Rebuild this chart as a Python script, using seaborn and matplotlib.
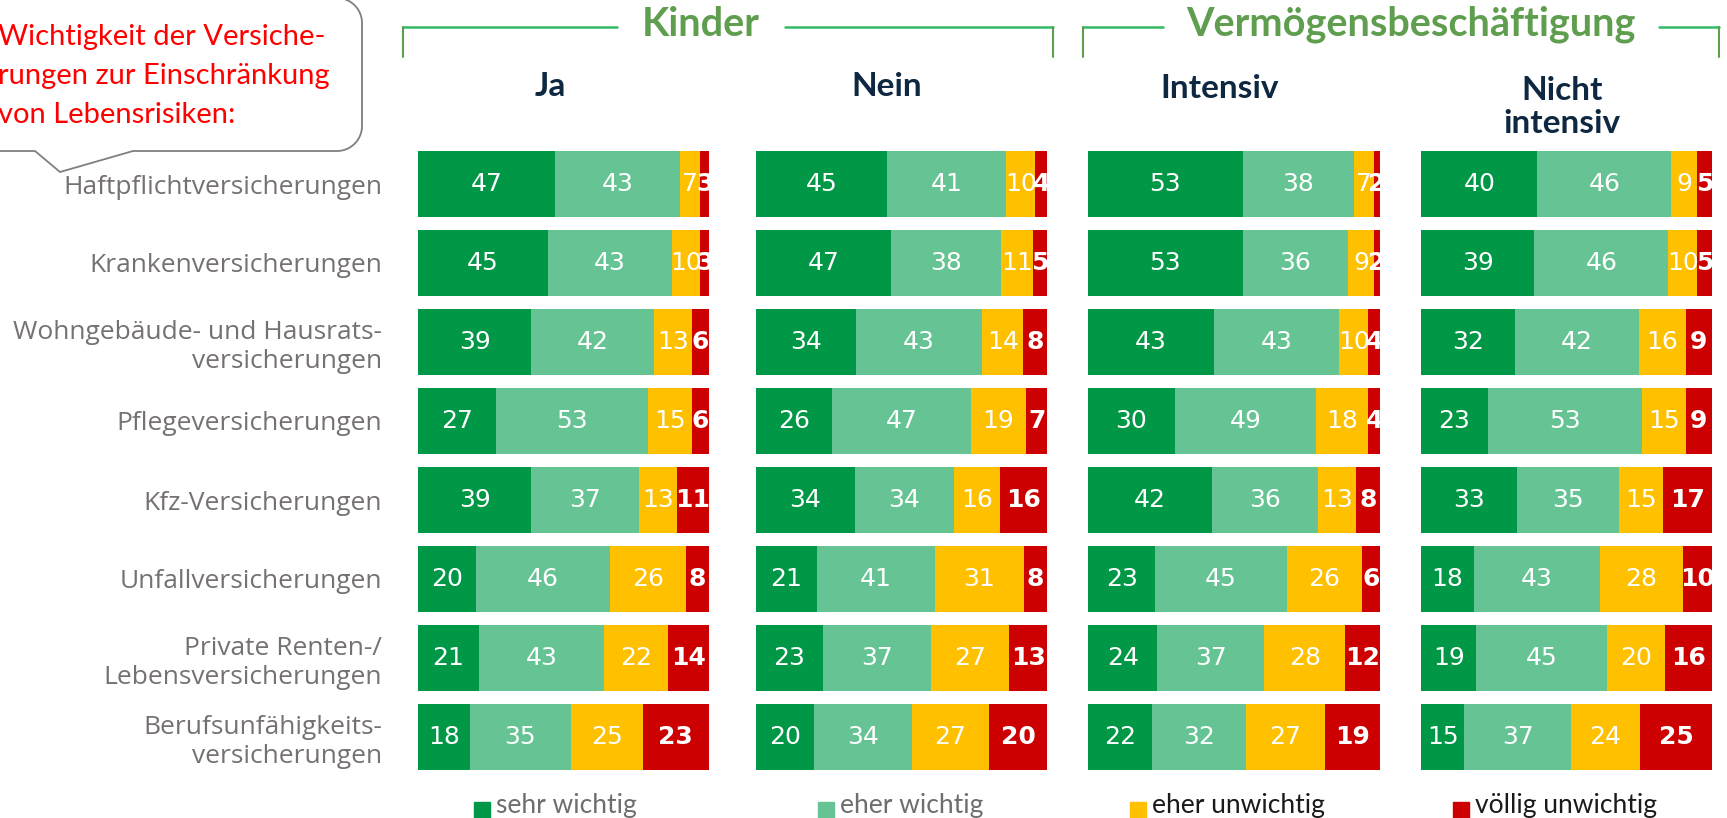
import numpy as np
import pandas as pd
import seaborn as sns
import matplotlib.pyplot as plt
from matplotlib import font_manager
from matplotlib.patches import Rectangle

# Data
categories = [
    "Haftpflichtversicherungen",
    "Krankenversicherungen",
    "Wohngebäude- und Hausrats-\nversicherungen",
    "Pflegeversicherungen",
    "Kfz-Versicherungen",
    "Unfallversicherungen",
    "Private Renten-/\nLebensversicherungen",
    "Berufsunfähigkeits-\nversicherungen",
]
levels = ["sehr wichtig", "eher wichtig", "eher unwichtig", "völlig unwichtig"]
level_colors = ["#009846", "#66c494", "#ffc000", "#cc0000"]
legend_text_colors = ["#6e6e6e", "#6e6e6e", "#1a1a1a", "#1a1a1a"]

panels = ["Ja", "Nein", "Intensiv", "Nicht\nintensiv"]
groups = ["Kinder", "Vermögensbeschäftigung"]

# rows: sehr wichtig, eher wichtig, eher unwichtig, völlig unwichtig
kinder_ja = [[47, 43, 7, 3], [45, 43, 10, 3], [39, 42, 13, 6], [27, 53, 15, 6],
             [39, 37, 13, 11], [20, 46, 26, 8], [21, 43, 22, 14], [18, 35, 25, 23]]
kinder_nein = [[45, 41, 10, 4], [47, 38, 11, 5], [34, 43, 14, 8], [26, 47, 19, 7],
               [34, 34, 16, 16], [21, 41, 31, 8], [23, 37, 27, 13], [20, 34, 27, 20]]
verm_intensiv = [[53, 38, 7, 2], [53, 36, 9, 2], [43, 43, 10, 4], [30, 49, 18, 4],
                 [42, 36, 13, 8], [23, 45, 26, 6], [24, 37, 28, 12], [22, 32, 27, 19]]
verm_nicht = [[40, 46, 9, 5], [39, 46, 10, 5], [32, 42, 16, 9], [23, 53, 15, 9],
              [33, 35, 15, 17], [18, 43, 28, 10], [19, 45, 20, 16], [15, 37, 24, 25]]
panel_values = [kinder_ja, kinder_nein, verm_intensiv, verm_nicht]

available = {f.name for f in font_manager.fontManager.ttflist}


def pick(*names):
    for n in names:
        if n in available:
            return n
    return "DejaVu Sans"


F_LABEL = pick("Open Sans", "Noto Sans", "DejaVu Sans")
F_HEAD = pick("Lato", "Roboto", "DejaVu Sans")
F_NUM = "DejaVu Sans"

sns.set_style("white")
plt.rcParams["font.family"] = [F_LABEL, "DejaVu Sans"]

W, H = 1727, 818
fig = plt.figure(figsize=(W / 100, H / 100), dpi=100)

# overlay in pixel coordinates for decorations
ov = fig.add_axes([0, 0, 1, 1])
ov.set_xlim(0, W)
ov.set_ylim(H, 0)
ov.axis("off")
ov.patch.set_alpha(0)

# long table
rows = []
for p, vals in zip(panels, panel_values):
    for cat, v in zip(categories, vals):
        tot = sum(v)
        left = 0.0
        for lev, x in zip(levels, v):
            share = x / tot * 100
            rows.append(dict(panel=p, category=cat, level=lev, value=x,
                             left=left, share=share, cum=left + share))
            left += share
df = pd.DataFrame(rows)

panel_x = [(418, 709), (756, 1047), (1088, 1380), (1421, 1712)]
top_px, bot_px = 144.5, 776.5

for i, p in enumerate(panels):
    x0, x1 = panel_x[i]
    ax = fig.add_axes([x0 / W, (H - bot_px) / H, (x1 - x0) / W, (bot_px - top_px) / H])
    sub = df[df.panel == p]
    # draw cumulative totals from the back to the front
    for lev, col in reversed(list(zip(levels, level_colors))):
        d = sub[sub.level == lev]
        sns.barplot(data=d, x="cum", y="category", order=categories, orient="h",
                    color=col, saturation=1, width=0.835, ax=ax, linewidth=0,
                    errorbar=None)
    for _, r in sub.iterrows():
        yi = categories.index(r.category)
        bold = r.level == levels[-1]
        ax.text(r.left + r.share / 2, yi, str(r.value), ha="center", va="center",
                color="white", fontsize=18, family=F_NUM,
                fontweight="bold" if bold else "normal", clip_on=False)
    ax.set_xlim(0, 100)
    ax.set_xlabel("")
    ax.set_ylabel("")
    ax.set_xticks([])
    sns.despine(ax=ax, left=True, bottom=True)
    if i == 0:
        ax.tick_params(axis="y", length=0, pad=26)
        for t in ax.get_yticklabels():
            t.set_fontsize(19)
            t.set_color("#767171")
            t.set_family(F_LABEL)
    else:
        ax.set_yticks([])

# panel titles
title_pos = [(550, 87), (887, 87), (1220, 89), (1562, 107)]
for p, (x, y) in zip(panels, title_pos):
    ov.text(x, y, p, ha="center", va="center", fontsize=24, fontweight="bold",
            color="#0e2841", family=F_HEAD, linespacing=1.15)

# group headers with brackets
green_line = "#33bb66"
head_green = "#5f9e4f"
brackets = [(403, 617, 785, 1053, 701), (1083, 1163, 1659, 1719, 1411)]
for g, (a, b, c, d, cx) in zip(groups, brackets):
    ov.plot([a, b], [27, 27], color=green_line, lw=1.8)
    ov.plot([c, d], [27, 27], color=green_line, lw=1.8)
    ov.plot([a, a], [27, 57], color="#5f9e4f", lw=1.5)
    ov.plot([d, d], [27, 57], color="#5f9e4f", lw=1.5)
    ov.text(cx, 24, g, ha="center", va="center", fontsize=28.5, fontweight="bold",
            color=head_green, family=F_HEAD)

# speech bubble
r = 25
ang1 = np.linspace(np.pi / 2, 0, 20)
ang2 = np.linspace(0, -np.pi / 2, 20)
bx = [-10, 362 - r] + list(362 - r + r * np.cos(ang1)) + list(362 - r + r * np.cos(ang2)) \
    + [133, 60, 35, -10]
by = [0 - 2, -2] + list(r - 2 - r * np.sin(ang1)) + list(126 - r * np.sin(ang2)) \
    + [151, 172, 151, 151]
ov.plot(bx, by, color="#7f7f7f", lw=1.3)
callout = ["Wichtigkeit der Versiche-", "rungen zur Einschränkung", "von Lebensrisiken:"]
for k, line in enumerate(callout):
    ov.text(-2, 37 + k * 39, line, ha="left", va="center", fontsize=21,
            color="#ff0000", family=F_HEAD)

# legend
leg_x = [474, 818, 1130, 1453]
for lev, col, tcol, x in zip(levels, level_colors, legend_text_colors, leg_x):
    ov.add_patch(Rectangle((x, 802), 16, 16, color=col))
    ov.text(x + 22, 805, lev, ha="left", va="center", fontsize=19,
            color=tcol, family=F_HEAD)

fig.savefig("out.png", dpi=100)
